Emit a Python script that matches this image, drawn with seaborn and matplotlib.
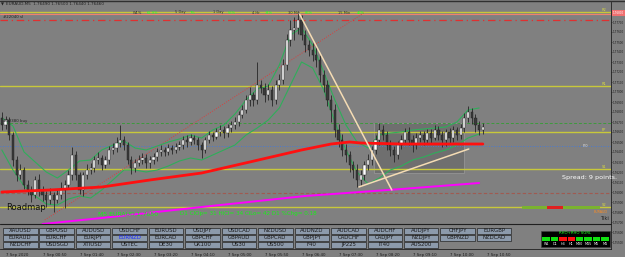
import numpy as np
import pandas as pd
import matplotlib
matplotlib.use("Agg")
import matplotlib.pyplot as plt
import seaborn as sns
from matplotlib.patches import Rectangle

sns.set_theme(style="white")
plt.rcParams['font.family'] = ['DejaVu Sans']

# ---------------- data ----------------
opens = [1.7674, 1.7667, 1.7672, 1.7657, 1.7632, 1.7617, 1.7622, 1.7607, 1.7602, 1.7597,
         1.7612, 1.7602, 1.7597, 1.7592, 1.7597, 1.7592, 1.7597, 1.7602, 1.7607, 1.7617,
         1.7637, 1.7617, 1.7602, 1.7617, 1.7622, 1.7624, 1.7632, 1.7634, 1.7627, 1.7632,
         1.7642, 1.7644, 1.7649, 1.7652, 1.7647, 1.7632, 1.7624, 1.7629, 1.7632, 1.7634,
         1.7629, 1.7632, 1.7635, 1.7640, 1.7642, 1.7640, 1.7644, 1.7642, 1.7645, 1.7647,
         1.7652, 1.7650, 1.7654, 1.7652, 1.7647, 1.7642, 1.7652, 1.7657, 1.7655, 1.7660,
         1.7662, 1.7659, 1.7664, 1.7667, 1.7670, 1.7677, 1.7682, 1.7692, 1.7697, 1.7692,
         1.7707, 1.7704, 1.7697, 1.7702, 1.7692, 1.7707, 1.7712, 1.7727, 1.7752, 1.7762,
         1.7764, 1.7772, 1.7757, 1.7747, 1.7742, 1.7737, 1.7732, 1.7717, 1.7707, 1.7692,
         1.7682, 1.7662, 1.7652, 1.7642, 1.7637, 1.7627, 1.7622, 1.7612, 1.7617, 1.7627,
         1.7632, 1.7642, 1.7652, 1.7662, 1.7657, 1.7647, 1.7642, 1.7637, 1.7647, 1.7652,
         1.7660, 1.7652, 1.7647, 1.7654, 1.7657, 1.7652, 1.7659, 1.7654, 1.7662, 1.7657,
         1.7652, 1.7660, 1.7654, 1.7662, 1.7657, 1.7664, 1.7674, 1.7680, 1.7674, 1.7667,
         1.7662]
closes = [1.7667, 1.7672, 1.7657, 1.7632, 1.7617, 1.7622, 1.7607, 1.7602, 1.7597, 1.7612,
          1.7602, 1.7597, 1.7592, 1.7597, 1.7592, 1.7597, 1.7602, 1.7607, 1.7617, 1.7637,
          1.7617, 1.7602, 1.7617, 1.7622, 1.7624, 1.7632, 1.7634, 1.7627, 1.7632, 1.7642,
          1.7644, 1.7649, 1.7652, 1.7647, 1.7632, 1.7624, 1.7629, 1.7632, 1.7634, 1.7629,
          1.7632, 1.7635, 1.7640, 1.7642, 1.7640, 1.7644, 1.7642, 1.7645, 1.7647, 1.7652,
          1.7650, 1.7654, 1.7652, 1.7647, 1.7642, 1.7652, 1.7657, 1.7655, 1.7660, 1.7662,
          1.7659, 1.7664, 1.7667, 1.7670, 1.7677, 1.7682, 1.7692, 1.7697, 1.7692, 1.7707,
          1.7704, 1.7697, 1.7702, 1.7692, 1.7707, 1.7712, 1.7727, 1.7752, 1.7762, 1.7764,
          1.7772, 1.7757, 1.7747, 1.7742, 1.7737, 1.7732, 1.7717, 1.7707, 1.7692, 1.7682,
          1.7662, 1.7652, 1.7642, 1.7637, 1.7627, 1.7622, 1.7612, 1.7617, 1.7627, 1.7632,
          1.7642, 1.7652, 1.7662, 1.7657, 1.7647, 1.7642, 1.7637, 1.7647, 1.7652, 1.7660,
          1.7652, 1.7647, 1.7654, 1.7657, 1.7652, 1.7659, 1.7654, 1.7662, 1.7657, 1.7652,
          1.7660, 1.7654, 1.7662, 1.7657, 1.7664, 1.7674, 1.7680, 1.7674, 1.7667, 1.7662,
          1.7665]
highs = [1.7680, 1.7676, 1.7675, 1.7660, 1.7636, 1.7628, 1.7625, 1.7612, 1.7606, 1.7616,
         1.7618, 1.7606, 1.7601, 1.7604, 1.7600, 1.7603, 1.7610, 1.7612, 1.7622, 1.7645,
         1.7641, 1.7620, 1.7620, 1.7628, 1.7629, 1.7636, 1.7640, 1.7637, 1.7636, 1.7646,
         1.7649, 1.7655, 1.7667, 1.7656, 1.7650, 1.7636, 1.7633, 1.7637, 1.7639, 1.7638,
         1.7636, 1.7639, 1.7644, 1.7647, 1.7645, 1.7648, 1.7647, 1.7649, 1.7651, 1.7656,
         1.7657, 1.7658, 1.7657, 1.7655, 1.7650, 1.7655, 1.7661, 1.7660, 1.7664, 1.7667,
         1.7666, 1.7668, 1.7671, 1.7675, 1.7681, 1.7687, 1.7697, 1.7705, 1.7700, 1.7730,
         1.7712, 1.7709, 1.7708, 1.7706, 1.7712, 1.7718, 1.7733, 1.7758, 1.7772, 1.7775,
         1.7781, 1.7777, 1.7762, 1.7752, 1.7749, 1.7745, 1.7737, 1.7722, 1.7712, 1.7697,
         1.7688, 1.7668, 1.7658, 1.7648, 1.7641, 1.7631, 1.7628, 1.7622, 1.7631, 1.7638,
         1.7646, 1.7657, 1.7669, 1.7667, 1.7661, 1.7652, 1.7646, 1.7651, 1.7657, 1.7664,
         1.7665, 1.7657, 1.7659, 1.7661, 1.7661, 1.7663, 1.7663, 1.7667, 1.7666, 1.7661,
         1.7663, 1.7664, 1.7666, 1.7665, 1.7668, 1.7679, 1.7686, 1.7684, 1.7678, 1.7671,
         1.7669]
lows = [1.7662, 1.7663, 1.7652, 1.7626, 1.7611, 1.7613, 1.7603, 1.7597, 1.7590, 1.7594,
        1.7596, 1.7591, 1.7585, 1.7588, 1.7580, 1.7589, 1.7593, 1.7584, 1.7603, 1.7612,
        1.7612, 1.7598, 1.7596, 1.7613, 1.7618, 1.7620, 1.7628, 1.7622, 1.7624, 1.7628,
        1.7638, 1.7640, 1.7645, 1.7642, 1.7628, 1.7618, 1.7620, 1.7626, 1.7628, 1.7624,
        1.7624, 1.7628, 1.7631, 1.7636, 1.7636, 1.7637, 1.7638, 1.7639, 1.7642, 1.7643,
        1.7645, 1.7647, 1.7648, 1.7642, 1.7634, 1.7639, 1.7649, 1.7651, 1.7653, 1.7656,
        1.7654, 1.7655, 1.7660, 1.7663, 1.7666, 1.7674, 1.7679, 1.7686, 1.7686, 1.7688,
        1.7699, 1.7690, 1.7692, 1.7686, 1.7688, 1.7702, 1.7708, 1.7722, 1.7746, 1.7752,
        1.7758, 1.7752, 1.7740, 1.7736, 1.7731, 1.7725, 1.7710, 1.7700, 1.7686, 1.7670,
        1.7655, 1.7645, 1.7636, 1.7630, 1.7620, 1.7614, 1.7605, 1.7606, 1.7612, 1.7622,
        1.7627, 1.7638, 1.7647, 1.7652, 1.7642, 1.7636, 1.7630, 1.7633, 1.7643, 1.7648,
        1.7647, 1.7640, 1.7643, 1.7650, 1.7647, 1.7648, 1.7649, 1.7652, 1.7652, 1.7645,
        1.7646, 1.7649, 1.7650, 1.7652, 1.7653, 1.7660, 1.7670, 1.7668, 1.7660, 1.7657,
        1.7658]

band_idx = [0, 3, 6, 9, 12, 15, 18, 21, 24, 27, 30, 33, 36, 39, 42, 45, 48, 51, 54, 57, 60,
            63, 66, 69, 72, 75, 78, 81, 84, 87, 90, 93, 96, 99, 102, 105, 108, 111, 114,
            117, 120, 123, 126, 129]
band_upper = [1.7674, 1.7666, 1.7640, 1.7630, 1.7620, 1.7614, 1.7622, 1.7631, 1.7632, 1.7642,
              1.7647, 1.7651, 1.7644, 1.7642, 1.7646, 1.7650, 1.7653, 1.7657, 1.7654, 1.7662,
              1.7667, 1.7678, 1.7692, 1.7703, 1.7706, 1.7727, 1.7757, 1.7764, 1.7747, 1.7720,
              1.7692, 1.7667, 1.7650, 1.7644, 1.7657, 1.7659, 1.7660, 1.7662, 1.7663, 1.7664,
              1.7665, 1.7670, 1.7682, 1.7684]
band_lower = [1.7642, 1.7622, 1.7606, 1.7596, 1.7588, 1.7587, 1.7593, 1.7596, 1.7594, 1.7602,
              1.7612, 1.7622, 1.7622, 1.7620, 1.7622, 1.7626, 1.7631, 1.7634, 1.7632, 1.7637,
              1.7642, 1.7647, 1.7657, 1.7664, 1.7672, 1.7684, 1.7707, 1.7730, 1.7724, 1.7702,
              1.7670, 1.7642, 1.7620, 1.7608, 1.7614, 1.7622, 1.7626, 1.7632, 1.7635, 1.7639,
              1.7642, 1.7647, 1.7654, 1.7658]

ma_red_idx = [0, 13, 27, 40, 54, 67, 81, 89, 94, 97, 108, 119, 130]
ma_red_val = [1.7600, 1.7602, 1.7605, 1.7612, 1.7619, 1.7630, 1.7642, 1.7648, 1.7650,
              1.7649, 1.7648, 1.7648, 1.7648]
ma_mag_idx = [11, 27, 54, 82, 108, 129]
ma_mag_val = [1.7568, 1.7574, 1.7585, 1.7596, 1.7603, 1.7609]

yellow_levels = [1.7780, 1.7706, 1.7660, 1.7623, 1.7585]
yellow_tags = ["R2", "R1", "PP", "S1", "S2"]
salmon_level = 1.77785
red_dashdot_level = 1.7772
green_dash_level = 1.7669
blue_dot_level = 1.7646
brown_dash_level = 1.7599

trend_down_t = [80.3, 105.4]
trend_down_p = [1.7779, 1.7602]
trend_up_t = [96.5, 126.2]
trend_up_p = [1.7605, 1.7643]
red_dotted_t = [11.6, 97.8]
red_dotted_p = [1.7572, 1.7779]
box_t = [100.5, 124.9]
box_p = [1.7619, 1.7669]

time_labels = ["7 Sep 2020", "7 Sep 00:50", "7 Sep 01:40", "7 Sep 02:30", "7 Sep 03:20",
               "7 Sep 04:10", "7 Sep 05:00", "7 Sep 05:50", "7 Sep 06:40", "7 Sep 07:30",
               "7 Sep 08:20", "7 Sep 09:10", "7 Sep 10:00", "7 Sep 10:50"]
time_label_idx = [1, 11, 21, 31, 41, 51, 61, 71, 81, 91, 101, 111, 121, 131]

price_ticks = [1.7550, 1.7560, 1.7570, 1.7580, 1.7590, 1.7600, 1.7610, 1.7620, 1.7630,
               1.7640, 1.7650, 1.7660, 1.7670, 1.7680, 1.7690, 1.7700, 1.7710, 1.7720,
               1.7730, 1.7740, 1.7750, 1.7760, 1.7770]

buttons = [
    ["XAUUSD", "GBPUSD", "AUDUSD", "USDCHF", "EURUSD", "USDJPY", "USDCAD", "NZDUSD",
     "AUDNZD", "AUDCAD", "AUDCHF", "AUDJPY", "CHFJPY", "EURGBP"],
    ["EURAUD", "EURCHF", "EURJPY", "EURNZD", "EURCAD", "GBPCHF", "GBPAUD", "GBPCAD",
     "GBPJPY", "CADCHF", "CADJPY", "NZDJPY", "GBPNZD", "NZDCAD"],
    ["NZDCHF", "USDSGD", "XTIUSD", "USTEC", "DE30", "UK100", "US30", "US500",
     "F40", "JP225", "IT40", "AUS200"],
]
signal_tf = ["W1", "D1", "H4", "H1", "M30", "M15", "M5", "M1"]
signal_state = ["g", "g", "r", "r", "g", "g", "g", "g"]

# ---------------- figure ----------------
W, H = 625, 257
BG = '#808080'
fig = plt.figure(figsize=(W / 100, H / 100), dpi=100, facecolor=BG)


def fx(x):
    return x / W


def fy(y):
    return 1 - y / H


ax = fig.add_axes([0, fy(249), fx(611), fy(2) - fy(249)])
ax.set_facecolor(BG)
ax.set_xlim(-0.5, -0.5 + 611 / 3.7)
ax.set_ylim(1.7543, 1.7790)

df = pd.DataFrame(dict(i=np.arange(len(closes)), o=opens, h=highs, l=lows, c=closes))
bull = df.c >= df.o

# box
ax.add_patch(Rectangle((box_t[0], box_p[0]), box_t[1] - box_t[0], box_p[1] - box_p[0],
                       facecolor='#6f6f6f', edgecolor='#9a9a9a', lw=0.5, zorder=1))

# horizontal levels
for lv in yellow_levels:
    ax.axhline(lv, color='#c8c83a', lw=1.0, zorder=2)
ax.axhline(salmon_level, color='#f08070', lw=0.8, zorder=2)
ax.axhline(red_dashdot_level, color='#e03030', lw=0.9, dashes=(6, 3, 1, 3), zorder=2)
ax.axhline(green_dash_level, color='#3c9a3c', lw=0.7, dashes=(3, 2), zorder=2)
ax.axhline(blue_dot_level, color='#4a7ad0', lw=0.7, dashes=(1, 1.5), zorder=2)
ax.axhline(brown_dash_level, color='#a05a50', lw=0.8, dashes=(3, 2), zorder=2)

# red dotted diagonal
ax.plot(red_dotted_t, red_dotted_p, color='#d84040', lw=0.7, dashes=(1, 1.5), zorder=2)

# bands
sns.lineplot(x=band_idx, y=band_upper, color='#2fae5a', lw=0.8, ax=ax, zorder=3)
sns.lineplot(x=band_idx, y=band_lower, color='#2fae5a', lw=0.8, ax=ax, zorder=3)

# moving averages
sns.lineplot(x=ma_red_idx, y=ma_red_val, color='#ff1010', lw=2.0, ax=ax, zorder=5)
sns.lineplot(x=ma_mag_idx, y=ma_mag_val, color='#ff00ff', lw=1.4, ax=ax, zorder=5)

# candles
ax.vlines(df.i, df.l, df.h, color='#262626', lw=0.6, zorder=4)
body = (df.c - df.o).where((df.c - df.o).abs() > 0.00004, 0.00004)
ax.bar(df.i[bull], body[bull], bottom=df.o[bull], width=0.62, color='white',
       edgecolor='#202020', lw=0.3, zorder=4.5)
ax.bar(df.i[~bull], body[~bull], bottom=df.o[~bull], width=0.62, color='#3a3a3a',
       edgecolor='#202020', lw=0.3, zorder=4.5)

# trend lines
ax.plot(trend_down_t, trend_down_p, color='#f5dcb4', lw=1.1, zorder=6)
ax.plot(trend_up_t, trend_up_p, color='#f5dcb4', lw=1.1, zorder=6)

# axes styling
ax.yaxis.tick_right()
ax.set_yticks(price_ticks)
ax.set_yticklabels([f"{p:.5f}" for p in price_ticks], fontsize=1.95, color='#1a1a1a')
ax.tick_params(axis='y', length=1.0, width=0.4, pad=0.2, colors='#1a1a1a')
ax.set_xticks(time_label_idx)
ax.set_xticklabels(time_labels, fontsize=2.8, color='#1a1a1a', ha='left')
ax.tick_params(axis='x', length=2, width=0.4, pad=0.8, colors='#1a1a1a')
for s in ['left', 'top']:
    ax.spines[s].set_visible(False)
for s in ['right', 'bottom']:
    ax.spines[s].set_color('#202020')
    ax.spines[s].set_linewidth(0.6)
ax.set_xlabel('')
ax.set_ylabel('')

# ---------------- overlays (pixel positioned decorations) ----------------
fig.add_artist(plt.Line2D([0, 1], [fy(0.5), fy(0.5)], transform=fig.transFigure,
                          color='#303030', lw=1.0))
fig.text(fx(1), fy(4), "\u25BC", fontsize=2.8, color='#202020', va='center')
fig.text(fx(6), fy(4), "EURAUD,M5  1.76490 1.76500 1.76440 1.76460", fontsize=3,
         color='#202020', va='center')
fig.text(fx(3), fy(17), "#22040 sl", fontsize=2.8, color='#202020', va='center')
fig.text(fx(3), fy(121), "#42380 buy", fontsize=2.8, color='#202020', va='center')

dark_tags = ["W1%", "5 Day", "1 Day", "4 Hr", "30 Min", "15 Min"]
dark_x = [133, 175, 213, 252, 288, 338]
green_tags = ["61.9%", "7%", "56%", "34%", "86%", "46%"]
green_x = [147, 190, 228, 265, 305, 357]
for t, x in zip(dark_tags, dark_x):
    fig.text(fx(x), fy(12.5), t, fontsize=2.6, color='#303030', va='center')
for t, x in zip(green_tags, green_x):
    fig.text(fx(x), fy(12.5), t, fontsize=2.6, color='#20ff20', va='center')

lvl_y = [10, 84, 130, 167, 205]
for t, y in zip(yellow_tags, lvl_y):
    fig.text(fx(602), fy(y), t, fontsize=2.6, color='#dada40', va='center')
fig.text(fx(583), fy(146), "P-0", fontsize=2.6, color='#e0e0e0', va='center')
fig.add_artist(Rectangle((fx(611.5), fy(16)), fx(13.5), 6 / H, transform=fig.transFigure,
                         facecolor='#f07070', edgecolor='none'))
fig.text(fx(612.3), fy(13), "1.76800", fontsize=1.95, color='white', va='center')

fig.text(fx(562), fy(178), "Spread: 9 points.", fontsize=4.6, color='white', va='center')
fig.text(fx(6), fy(208), "Roadmap", fontsize=6.0, color='#101010', va='center')
fig.text(fx(98), fy(214), "M5 EURAUD 1.7650", fontsize=4.4, color='#18f018', va='center')
fig.text(fx(180), fy(214), "D1 ClOp= 31 HiCl= 34 ClLo= 42 D1 %Chg= 0.18", fontsize=4.1,
         color='#18f018', va='center')

# strength bar
fig.add_artist(Rectangle((fx(522), fy(209)), fx(78), 3 / H, transform=fig.transFigure,
                         facecolor='#7ab32e', edgecolor='none'))
fig.add_artist(Rectangle((fx(547), fy(209)), fx(16), 3 / H, transform=fig.transFigure,
                         facecolor='#e02020', edgecolor='none'))
fig.text(fx(594), fy(212), "EURAUD", fontsize=2.4, color='#ff8c20', va='center')
fig.text(fx(600), fy(219), "Tiki", fontsize=3.6, color='#202020', va='center')

# panel line
fig.add_artist(plt.Line2D([0, fx(611)], [fy(223.5), fy(223.5)], transform=fig.transFigure,
                          color='#202020', lw=0.8))

# buttons
for r, row in enumerate(buttons):
    for k, name in enumerate(row):
        x0 = 3 + 36.45 * k
        y0 = 227.5 + 7 * r
        fig.add_artist(Rectangle((fx(x0), fy(y0 + 6.3)), fx(34.5), 6.3 / H,
                                 transform=fig.transFigure, facecolor='#8c9aab',
                                 edgecolor='#262626', lw=0.5))
        col = '#1a2cff' if name == "EURNZD" else '#1a1a1a'
        fig.text(fx(x0 + 17.25), fy(y0 + 3.3), name, ha='center', va='center',
                 fontsize=3.9, color=col)

# signal box
fig.add_artist(Rectangle((fx(541), fy(247)), fx(69), 16 / H, transform=fig.transFigure,
                         facecolor='black', edgecolor='#404040', lw=0.4))
fig.text(fx(575.5), fy(233.5), "RHO+RHO SGRL", fontsize=2.8, color='#20ff20',
         ha='center', va='center')
cw = 67 / 8
for j, (tf, st) in enumerate(zip(signal_tf, signal_state)):
    xx = 542 + cw * j
    fig.add_artist(Rectangle((fx(xx + 0.4), fy(240.5)), fx(cw - 0.8), 4 / H,
                             transform=fig.transFigure,
                             facecolor='#10e010' if st == 'g' else '#ff1010',
                             edgecolor='none'))
    fig.text(fx(xx + cw / 2), fy(244), tf, fontsize=2.4, color='white',
             ha='center', va='center')

fig.savefig("out.png", dpi=100, facecolor=BG)
